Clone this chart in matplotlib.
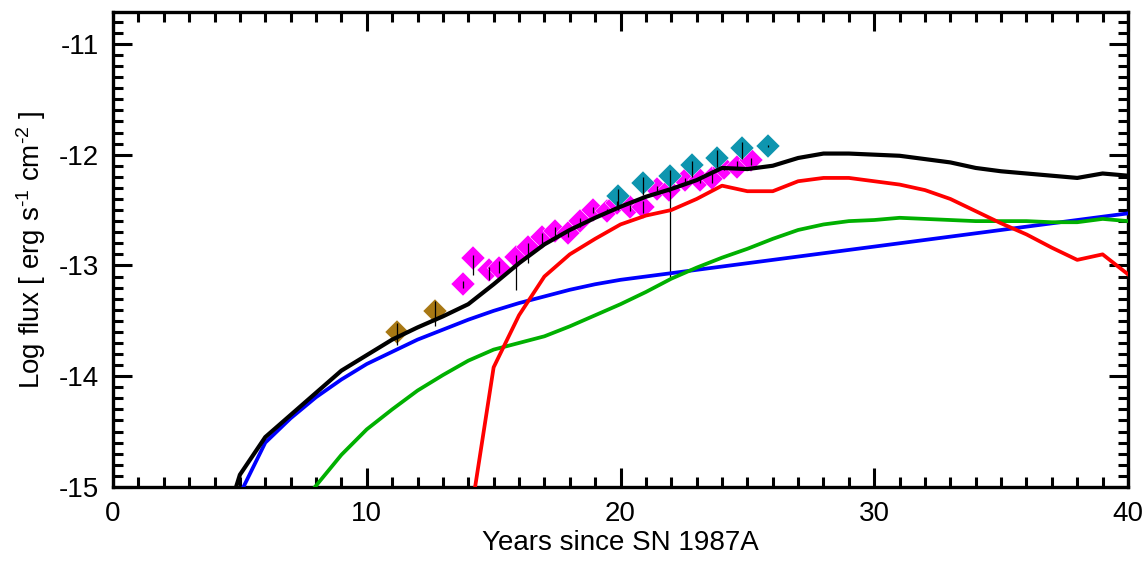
import matplotlib.pyplot as plt
from matplotlib.ticker import MultipleLocator

plt.rcParams['font.family'] = ['Liberation Sans', 'DejaVu Sans']
plt.rcParams['mathtext.fontset'] = 'custom'
plt.rcParams['mathtext.rm'] = 'Liberation Sans'
plt.rcParams['mathtext.it'] = 'Liberation Sans:italic'
plt.rcParams['axes.unicode_minus'] = False

# model curves: log flux vs years since SN 1987A
total_t = [4.85, 5, 6, 7, 8, 9, 10, 11, 12, 13, 14, 15, 16, 17, 18, 19, 20, 21, 22, 23, 24,
           25, 26, 27, 28, 29, 30, 31, 32, 33, 34, 35, 36, 37, 38, 39, 40]
total_f = [-15.0, -14.89, -14.55, -14.35, -14.15, -13.95, -13.81, -13.67, -13.56, -13.46, -13.35,
           -13.17, -12.98, -12.81, -12.68, -12.57, -12.47, -12.38, -12.31, -12.23, -12.12,
           -12.13, -12.10, -12.03, -11.99, -11.99, -12.00, -12.01, -12.04, -12.07, -12.12,
           -12.15, -12.17, -12.19, -12.21, -12.17, -12.19]

blue_t = [5.14, 6, 7, 8, 9, 10, 11, 12, 13, 14, 15, 16, 17, 18, 19, 20, 22, 30, 35, 40]
blue_f = [-15.0, -14.6, -14.38, -14.19, -14.03, -13.89, -13.78, -13.67, -13.58, -13.49, -13.41,
          -13.34, -13.28, -13.22, -13.17, -13.13, -13.07, -12.83, -12.68, -12.53]

green_t = [7.96, 9, 10, 11, 12, 13, 14, 15, 16, 17, 18, 19, 20, 21, 22, 23, 24, 25, 26, 27, 28,
           29, 30, 31, 32, 33, 34, 35, 36, 37, 38, 39, 40]
green_f = [-15.0, -14.71, -14.48, -14.30, -14.13, -13.99, -13.86, -13.76, -13.70, -13.64, -13.55,
           -13.45, -13.35, -13.24, -13.12, -13.02, -12.93, -12.85, -12.76, -12.68, -12.63,
           -12.60, -12.59, -12.57, -12.58, -12.59, -12.60, -12.60, -12.60, -12.61, -12.61,
           -12.58, -12.60]

red_t = [14.27, 15, 16, 17, 18, 19, 20, 21, 22, 23, 24, 25, 26, 27, 28, 29, 30, 31, 32, 33, 34,
         35, 36, 37, 38, 39, 40]
red_f = [-15.0, -13.92, -13.45, -13.10, -12.90, -12.76, -12.63, -12.55, -12.50, -12.40, -12.28,
         -12.33, -12.33, -12.24, -12.21, -12.21, -12.24, -12.27, -12.32, -12.40, -12.51,
         -12.62, -12.72, -12.84, -12.95, -12.90, -13.08]

# observations
brown_t = [11.18, 12.68]
brown_f = [-13.60, -13.41]
brown_lo = [0.12, 0.14]
brown_hi = [0.08, 0.09]

mag_t = [13.81, 14.18, 14.81, 15.23, 15.87, 16.37, 16.90, 17.42, 17.95, 18.39, 18.93, 19.46,
         19.87, 20.38, 20.90, 21.43, 21.93, 22.55, 23.14, 23.60, 24.08, 24.58, 25.13]
mag_f = [-13.17, -12.93, -13.04, -13.02, -12.92, -12.83, -12.74, -12.69, -12.71, -12.60, -12.50,
         -12.51, -12.44, -12.47, -12.47, -12.31, -12.32, -12.23, -12.23, -12.21, -12.12,
         -12.11, -12.05]
mag_lo = [0.03, 0.16, 0.09, 0.05, 0.30, 0.15, 0.09, 0.06, 0.03, 0.05, 0.03, 0.02,
          0.02, 0.04, 0.06, 0.03, 0.02, 0.04, 0.03, 0.05, 0.02, 0.01, 0.04]
mag_hi = [0.03, 0.02, 0.03, 0.06, 0.01, 0.03, 0.03, 0.04, 0.03, 0.03, 0.03, 0.02,
          0.02, 0.02, 0.05, 0.03, 0.02, 0.02, 0.03, 0.04, 0.02, 0.05, 0.02]

teal_t = [19.92, 20.90, 21.96, 22.81, 23.79, 24.80, 25.83]
teal_f = [-12.37, -12.26, -12.19, -12.09, -12.03, -11.94, -11.92]
teal_lo = [0.13, 0.10, 0.91, 0.11, 0.08, 0.10, 0.01]
teal_hi = [0.06, 0.06, 0.05, 0.03, 0.07, 0.05, 0.01]

fig = plt.figure(figsize=(11.44, 5.61), dpi=100)
ax = fig.add_axes([0.0988, 0.132, 0.8872, 0.847])

for t, f, c in [(brown_t, brown_f, '#A87814'), (mag_t, mag_f, '#FF00FF'), (teal_t, teal_f, '#0E95AF')]:
    ax.plot(t, f, 'D', ms=12, mfc=c, mec='white', mew=0.3, zorder=2)

for t, f, lo, hi in [(brown_t, brown_f, brown_lo, brown_hi), (mag_t, mag_f, mag_lo, mag_hi),
                     (teal_t, teal_f, teal_lo, teal_hi)]:
    ax.errorbar(t, f, yerr=[lo, hi], fmt='none', ecolor='black', elinewidth=0.9, capsize=0, zorder=3)

ax.plot(blue_t, blue_f, color='#0000FF', lw=2.7, zorder=4)
ax.plot(green_t, green_f, color='#00B000', lw=2.7, zorder=4)
ax.plot(red_t, red_f, color='#FF0000', lw=2.7, zorder=4)
ax.plot(total_t, total_f, color='black', lw=3.0, zorder=5)

ax.set_xlim(0, 40)
ax.set_ylim(-15.0, -10.71)
ax.xaxis.set_major_locator(MultipleLocator(10))
ax.xaxis.set_minor_locator(MultipleLocator(1))
ax.yaxis.set_major_locator(MultipleLocator(1))
ax.yaxis.set_minor_locator(MultipleLocator(0.1))
ax.tick_params(which='both', direction='in', top=True, right=True, width=2.2, labelsize=20)
ax.tick_params(which='major', length=14, pad=10)
ax.tick_params(which='minor', length=7)
for s in ax.spines.values():
    s.set_linewidth(2.4)

ax.set_xlabel('Years since SN 1987A', fontsize=20, labelpad=2)
ax.set_ylabel('Log flux [ erg s$^{\u2010 1}$ cm$^{\u2010 2}$ ]', fontsize=20, labelpad=8)

fig.savefig('out.png', dpi=100)
